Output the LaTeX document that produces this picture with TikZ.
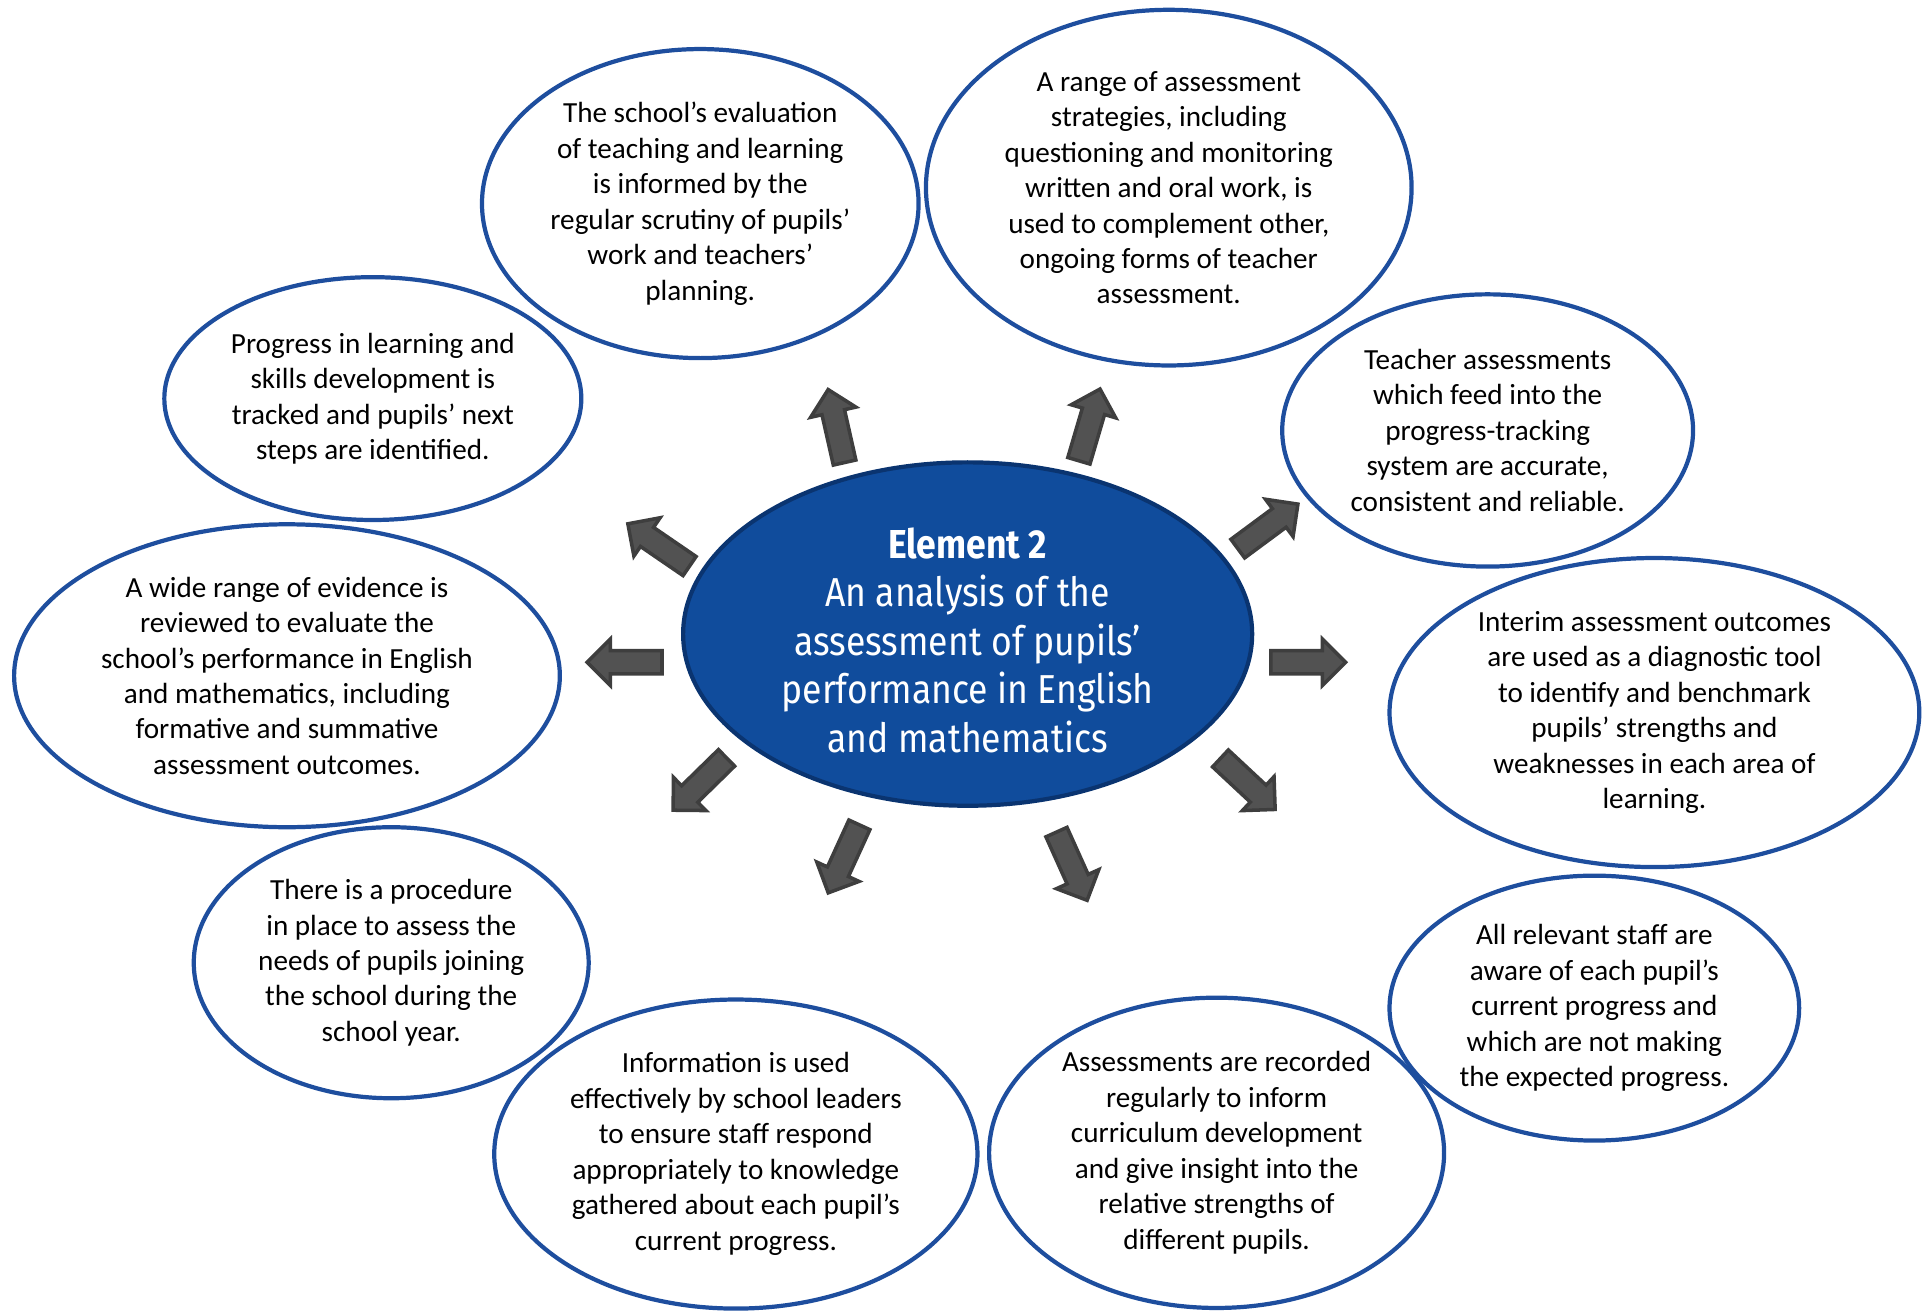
\documentclass[tikz,border=0pt]{standalone}
\usepackage{fontspec}
\setmainfont{Carlito}
\newfontfamily\titlefont[FakeStretch=0.88]{Fira Sans}
\usepackage{tikz}
\usetikzlibrary{shapes.geometric, shapes.arrows, positioning}
\definecolor{bubbleblue}{RGB}{30,78,158}
\definecolor{centreblue}{RGB}{16,76,156}
\definecolor{centreedge}{RGB}{10,52,112}
\definecolor{arrowfill}{RGB}{82,82,82}
\definecolor{arrowedge}{RGB}{62,62,62}
\newcommand{\pxu}{0.012264cm}

\begin{document}
\begin{tikzpicture}[x=\pxu, y=-\pxu,
            bubble/.style={draw=bubbleblue, line width=1.2pt, ellipse, inner sep=0pt},
            bubbletext/.style={align=center, inner sep=0pt,
                    font=\fontsize{8.3}{10.1}\selectfont},
            centre/.style={ellipse, fill=centreblue, draw=centreedge, line width=1.2pt,
                    inner sep=0pt, minimum width=464*\pxu, minimum height=280*\pxu},
            centretext/.style={align=center, inner sep=0pt, text=white,
                    font=\titlefont\fontsize{11.5}{13.8}\selectfont},
            pointer/.style={single arrow, draw=arrowedge, fill=arrowfill, line width=1pt,
                    inner xsep=0pt, inner ysep=8*\pxu, minimum height=61*\pxu,
                    minimum width=37*\pxu, single arrow head extend=9.5*\pxu},
        ]
        \useasboundingbox (0,0) rectangle (1568,1069);

        \node[centre] (element) at (789,517) {};
        \node[centretext] (elementtxt) at (789,522) {{\bfseries Element 2}\\An analysis of the\\assessment of pupils’\\performance in English\\and mathematics};

        \node[bubble, minimum width=356*\pxu, minimum height=252*\pxu] (scrutiny) at (571,166) {};
        \node[bubbletext] (scrutinytxt) at (scrutiny) {The school’s evaluation\\of teaching and learning\\is informed by the\\regular scrutiny of pupils’\\work and teachers’\\planning.};

        \node[bubble, minimum width=396*\pxu, minimum height=290*\pxu] (strategies) at (953,153) {};
        \node[bubbletext] (strategiestxt) at (strategies) {A range of assessment\\strategies, including\\questioning and monitoring\\written and oral work, is\\used to complement other,\\ongoing forms of teacher\\assessment.};

        \node[bubble, minimum width=340*\pxu, minimum height=198*\pxu] (tracking) at (304,325) {};
        \node[bubbletext] (trackingtxt) at (tracking) {Progress in learning and\\skills development is\\tracked and pupils’ next\\steps are identified.};

        \node[bubble, minimum width=335*\pxu, minimum height=222*\pxu] (teacher) at (1213,351) {};
        \node[bubbletext] (teachertxt) at (teacher) {Teacher assessments\\which feed into the\\progress-tracking\\system are accurate,\\consistent and reliable.};

        \node[bubble, minimum width=445*\pxu, minimum height=247*\pxu] (evidence) at (234,551) {};
        \node[bubbletext] (evidencetxt) at (evidence) {A wide range of evidence is\\reviewed to evaluate the\\school’s performance in English\\and mathematics, including\\formative and summative\\assessment outcomes.};

        \node[bubble, minimum width=432*\pxu, minimum height=252*\pxu] (interim) at (1349,581) {};
        \node[bubbletext] (interimtxt) at (interim) {Interim assessment outcomes\\are used as a diagnostic tool\\to identify and benchmark\\pupils’ strengths and\\weaknesses in each area of\\learning.};

        \node[bubble, minimum width=322*\pxu, minimum height=221*\pxu] (joining) at (319,785) {};
        \node[bubbletext] (joiningtxt) at (joining) {There is a procedure\\in place to assess the\\needs of pupils joining\\the school during the\\school year.};

        \node[bubble, minimum width=334*\pxu, minimum height=216*\pxu] (staff) at (1300,822) {};
        \node[bubbletext] (stafftxt) at (staff) {All relevant staff are\\aware of each pupil’s\\current progress and\\which are not making\\the expected progress.};

        \node[bubble, minimum width=394*\pxu, minimum height=252*\pxu] (leaders) at (600,941) {};
        \node[bubbletext] (leaderstxt) at (leaders) {Information is used\\effectively by school leaders\\to ensure staff respond\\appropriately to knowledge\\gathered about each pupil’s\\current progress.};

        \node[bubble, minimum width=371*\pxu, minimum height=253*\pxu] (recorded) at (992,940) {};
        \node[bubbletext] (recordedtxt) at (recorded) {Assessments are recorded\\regularly to inform\\curriculum development\\and give insight into the\\relative strengths of\\different pupils.};

        \node[pointer, rotate=102.7] (p1) at (683,352) {};
        \node[pointer, rotate=73.6] (p2) at (887,351) {};
        \node[pointer, rotate=36.5] (p3) at (1030,432) {};
        \node[pointer, rotate=0] (p4) at (1062,540) {};
        \node[pointer, rotate=-43] (p5) at (1014,636) {};
        \node[pointer, rotate=-65.8] (p6) at (872,702) {};
        \node[pointer, rotate=-114.6] (p7) at (690,696) {};
        \node[pointer, rotate=-135.6] (p8) at (574,636) {};
        \node[pointer, rotate=180] (p9) at (514,540) {};
        \node[pointer, rotate=145.6] (p10) at (541,447) {};

    \end{tikzpicture}
\end{document}
